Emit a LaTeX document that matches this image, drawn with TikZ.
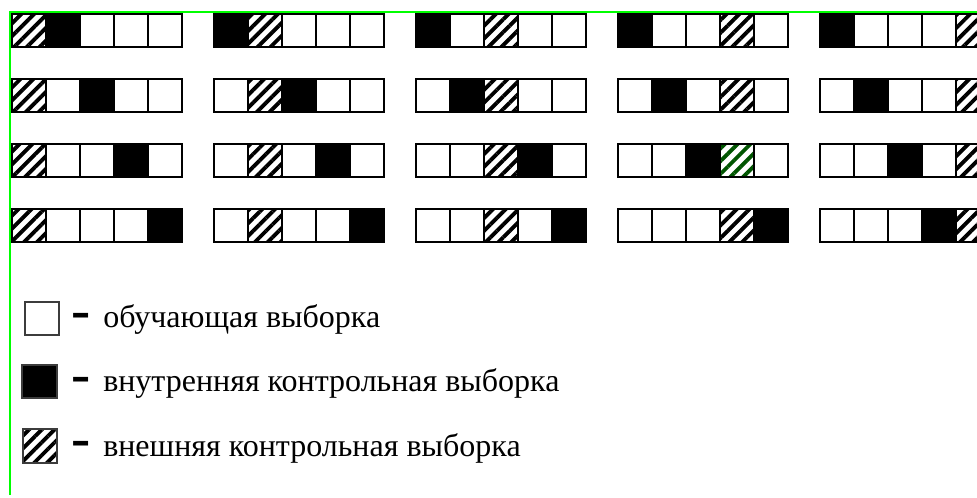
\documentclass[tikz,border=0pt]{standalone}
\usepackage{fontspec}
\setmainfont{Liberation Serif}
\usepackage{tikz}
\usetikzlibrary{patterns.meta}
\definecolor{frame}{RGB}{0, 255, 0}
\definecolor{darkhatch}{RGB}{0, 85, 0}
\definecolor{legendedge}{RGB}{60, 60, 60}

\tikzset{
  cell/.style={draw=black, line width=1.5pt},
  inner/.style={cell, fill=black},
  outer/.style={cell, pattern={Lines[angle=45, distance=6.8pt, line width=2.9pt]}, pattern color=#1},
  outer/.default=black,
  legend/.style={anchor=base west, inner sep=0pt, font=\fontsize{24}{28}\selectfont},
  hyph/.style={inner sep=0pt, font=\fontsize{24}{28}\selectfont\bfseries, xscale=1.8, yscale=1.7}
}

\begin{document}
\begin{tikzpicture}[x=0.75pt, y=-0.75pt]
  \useasboundingbox (0, 0) rectangle (977, 497);
  \fill[white] (0, 0) rectangle (977, 497);
  \clip (0, 0) rectangle (977, 497);

  % five groups, four rows, five cells
  \foreach \g in {1,...,5} {
    \foreach \r in {1,...,4} {
      \pgfmathtruncatemacro{\b}{\r < \g ? \r : \r + 1}
      \foreach \c in {1,...,5} {
        \pgfmathsetmacro{\x}{12 + 202*(\g - 1) + 34*(\c - 1)}
        \pgfmathsetmacro{\y}{14 + 65*(\r - 1)}
        \ifnum\c=\g
          \ifnum\g\r=43
            \draw[outer=darkhatch] (\x, \y) rectangle ++(34, 32.5);
          \else
            \draw[outer] (\x, \y) rectangle ++(34, 32.5);
          \fi
        \else
          \ifnum\c=\b
            \draw[inner] (\x, \y) rectangle ++(34, 32.5);
          \else
            \draw[cell] (\x, \y) rectangle ++(34, 32.5);
          \fi
        \fi
      }
    }
  }

  % frame
  \draw[frame, line width=1.5pt] (9.5, 495) -- (9.5, 11.5) -- (977, 11.5);

  % legend
  \draw[cell, draw=legendedge] (25, 302) rectangle (59, 335);
  \draw[inner, draw=legendedge] (22, 365) rectangle (57, 398);
  \draw[outer, draw=legendedge] (23, 429) rectangle (57, 463);

  \foreach \n/\y in {train/321, inside/385, outside/448.5} {
    \node[hyph] (hyph\n) at (81, \y) {-};
  }

  \node[legend] (lbltrain) at (103, 327) {обучающая выборка};
  \node[legend] (lblinside) at (103, 391.5) {внутренняя контрольная выборка};
  \node[legend] (lbloutside) at (103, 456) {внешняя контрольная выборка};
\end{tikzpicture}
\end{document}
